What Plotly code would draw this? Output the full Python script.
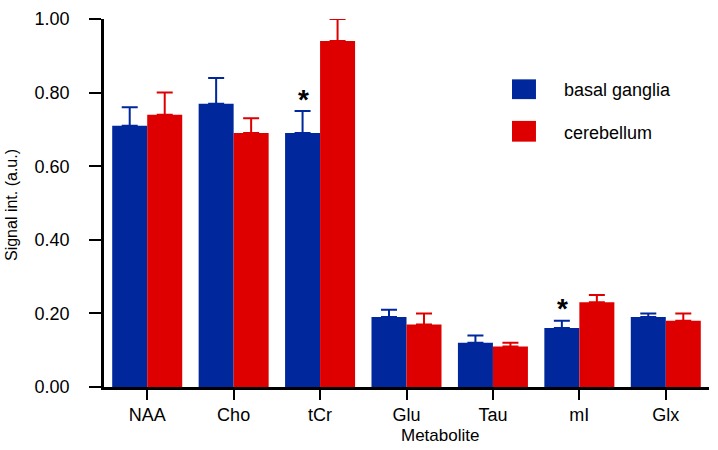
import plotly.graph_objects as go

metabolites = ["NAA", "Cho", "tCr", "Glu", "Tau", "mI", "Glx"]
basal_ganglia = [0.71, 0.77, 0.69, 0.19, 0.12, 0.16, 0.19]
basal_ganglia_err = [0.05, 0.07, 0.06, 0.02, 0.02, 0.02, 0.01]
cerebellum = [0.74, 0.69, 0.94, 0.17, 0.11, 0.23, 0.18]
cerebellum_err = [0.06, 0.04, 0.06, 0.03, 0.01, 0.02, 0.02]
y_ticks = [0.0, 0.2, 0.4, 0.6, 0.8, 1.0]
y_tick_labels = ["0.00", "0.20", "0.40", "0.60", "0.80", "1.00"]
significant = ["tCr", "mI"]
series_names = ["basal ganglia", "cerebellum"]

BLUE = "#00279b"
RED = "#de0000"
FONT = "Liberation Sans, Arial, sans-serif"

fig = go.Figure()
fig.add_trace(go.Bar(
    x=metabolites, y=basal_ganglia, name=series_names[0],
    marker=dict(color=BLUE, line=dict(width=0)),
    error_y=dict(type="data", array=basal_ganglia_err, arrayminus=[0]*len(metabolites),
                 symmetric=False, color=BLUE, thickness=2, width=8),
    cliponaxis=False, showlegend=False,
))
fig.add_trace(go.Bar(
    x=metabolites, y=cerebellum, name=series_names[1],
    marker=dict(color=RED, line=dict(width=0)),
    error_y=dict(type="data", array=cerebellum_err, arrayminus=[0]*len(metabolites),
                 symmetric=False, color=RED, thickness=2, width=8),
    cliponaxis=False, showlegend=False,
))

for m in significant:
    i = metabolites.index(m)
    fig.add_annotation(x=m, y=basal_ganglia[i] + basal_ganglia_err[i], xref="x", yref="y",
                       text="<b>*</b>", showarrow=False, xshift=-17, yshift=12,
                       font=dict(family=FONT, size=28, color="black"))

# manual legend (large swatches)
legend_rows = [(0.7823, 0.8360, 0.8065, BLUE), (0.6667, 0.7231, 0.6909, RED)]
for name, (y0, y1, yt, col) in zip(series_names, legend_rows):
    fig.add_shape(type="rect", xref="paper", yref="paper", x0=0.6744, x1=0.7140,
                  y0=y0, y1=y1, fillcolor=col, line=dict(width=0))
    fig.add_annotation(xref="paper", yref="paper", x=0.757, y=yt, text=name,
                       showarrow=False, xanchor="left", yanchor="middle",
                       font=dict(family=FONT, size=18, color="black"))

# axis titles
fig.add_annotation(xref="paper", yref="paper", x=0.555, y=-0.1317, text="Metabolite",
                   showarrow=False, xanchor="center", yanchor="middle",
                   font=dict(family=FONT, size=17, color="black"))
fig.add_annotation(xref="paper", yref="paper", x=-0.152, y=0.4946, text="Signal int. (a.u.)",
                   showarrow=False, xanchor="center", yanchor="middle", textangle=-90,
                   font=dict(family=FONT, size=16, color="black"))

fig.update_layout(
    width=718, height=450,
    margin=dict(l=104, r=9, t=15, b=63),
    paper_bgcolor="white", plot_bgcolor="white",
    barmode="group", bargap=0.19, bargroupgap=0,
    font=dict(family=FONT, size=18, color="black"),
    showlegend=False,
    xaxis=dict(range=[-0.5, 6.5], showline=True, linecolor="black", linewidth=2.5,
               ticks="outside", ticklen=10, tickwidth=2, tickcolor="black",
               showgrid=False, zeroline=False, tickfont=dict(size=18)),
    yaxis=dict(range=[0, 1.0], tickvals=y_ticks, ticktext=y_tick_labels,
               showline=True, linecolor="black", linewidth=2.5,
               ticks="outside", ticklen=12, tickwidth=2, tickcolor="black",
               ticklabelstandoff=16, ticklabeloverflow="allow",
               showgrid=False, zeroline=False, tickfont=dict(size=18)),
)

fig.write_html("out.html", config={"displayModeBar": False},
               post_script="document.body.style.margin='0';document.body.style.overflow='hidden';")
